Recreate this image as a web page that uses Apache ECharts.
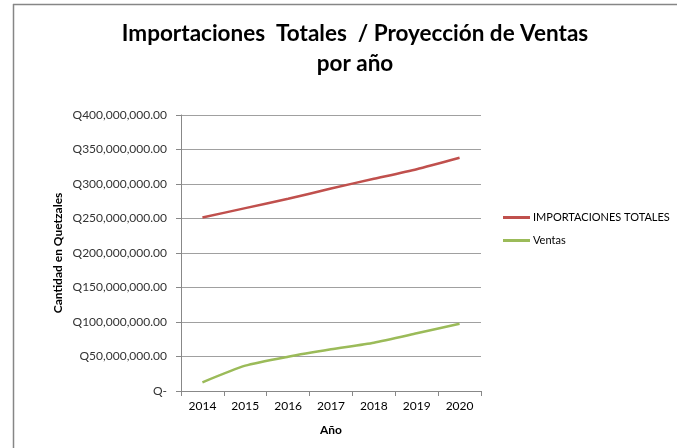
<!DOCTYPE html>
<html><head><meta charset="utf-8">
<script src="https://cdn.jsdelivr.net/npm/echarts@6/dist/echarts.min.js"></script>
<style>html,body{margin:0;padding:0;background:#fff}#c{width:677px;height:448px}</style>
</head><body><div id="c"></div>
<script>
var years = ['2014','2015','2016','2017','2018','2019','2020'];
var importaciones = [251500000, 265000000, 278500000, 293500000, 307500000, 321500000, 338000000];
var ventas = [12600000, 36700000, 49700000, 60400000, 70000000, 83600000, 97500000];
var seriesNames = ['IMPORTACIONES TOTALES', 'Ventas'];

function fmtQ(v){
  if (v === 0) return 'Q-';
  return 'Q' + v.toLocaleString('en-US') + '.00';
}
var font = 'Lato, "Open Sans", sans-serif';
var chart = echarts.init(document.getElementById('c'));
chart.setOption({
  backgroundColor: '#fff',
  animation: false,
  title: {
    text: 'Importaciones  Totales  / Proyección de Ventas\npor año',
    left: 350, textAlign: 'center', top: 14,
    textStyle: {fontFamily: font, fontSize: 22.5, fontWeight: 'bold', color: '#000', lineHeight: 30}
  },
  graphic: [
    {type: 'line', shape: {x1: 13, y1: 4.5, x2: 677, y2: 4.5}, style: {stroke: '#868686', lineWidth: 1.5}},
    {type: 'line', shape: {x1: 13.5, y1: 4, x2: 13.5, y2: 448}, style: {stroke: '#868686', lineWidth: 1.5}}
  ],
  legend: {
    orient: 'vertical', left: 498, top: 207,
    itemWidth: 27, itemHeight: 3, itemGap: 12, icon: 'rect',
    textStyle: {fontFamily: font, fontSize: 11, color: '#000', padding: [0,0,0,-2]},
    data: seriesNames
  },
  grid: {left: 181, right: 196, top: 115, bottom: 57},
  xAxis: {
    type: 'category', data: years, boundaryGap: true,
    name: 'Año', nameLocation: 'middle', nameGap: 33,
    nameTextStyle: {fontFamily: font, fontSize: 12, fontWeight: 'bold', color: '#000'},
    axisLine: {lineStyle: {color: '#888'}},
    axisTick: {show: true, alignWithLabel: false, length: 5, lineStyle: {color: '#888'}},
    axisLabel: {fontFamily: font, fontSize: 12, color: '#000', margin: 9}
  },
  yAxis: {
    type: 'value', min: 0, max: 400000000, interval: 50000000,
    name: 'Cantidad en Quetzales', nameLocation: 'middle', nameGap: 117,
    nameTextStyle: {fontFamily: font, fontSize: 12, fontWeight: 'bold', color: '#000'},
    axisLine: {show: true, lineStyle: {color: '#888'}},
    axisTick: {show: true, length: 5, lineStyle: {color: '#888'}},
    splitLine: {lineStyle: {color: '#a0a0a0'}},
    axisLabel: {fontFamily: font, fontSize: 12, color: '#333', margin: 14, formatter: fmtQ}
  },
  series: [
    {name: seriesNames[0], type: 'line', data: importaciones, showSymbol: false, smooth: 0.2,
     lineStyle: {color: '#C0504D', width: 2.5}, itemStyle: {color: '#C0504D'}},
    {name: seriesNames[1], type: 'line', data: ventas, showSymbol: false, smooth: 0.2,
     lineStyle: {color: '#9BBB59', width: 2.5}, itemStyle: {color: '#9BBB59'}}
  ]
});
</script></body></html>
